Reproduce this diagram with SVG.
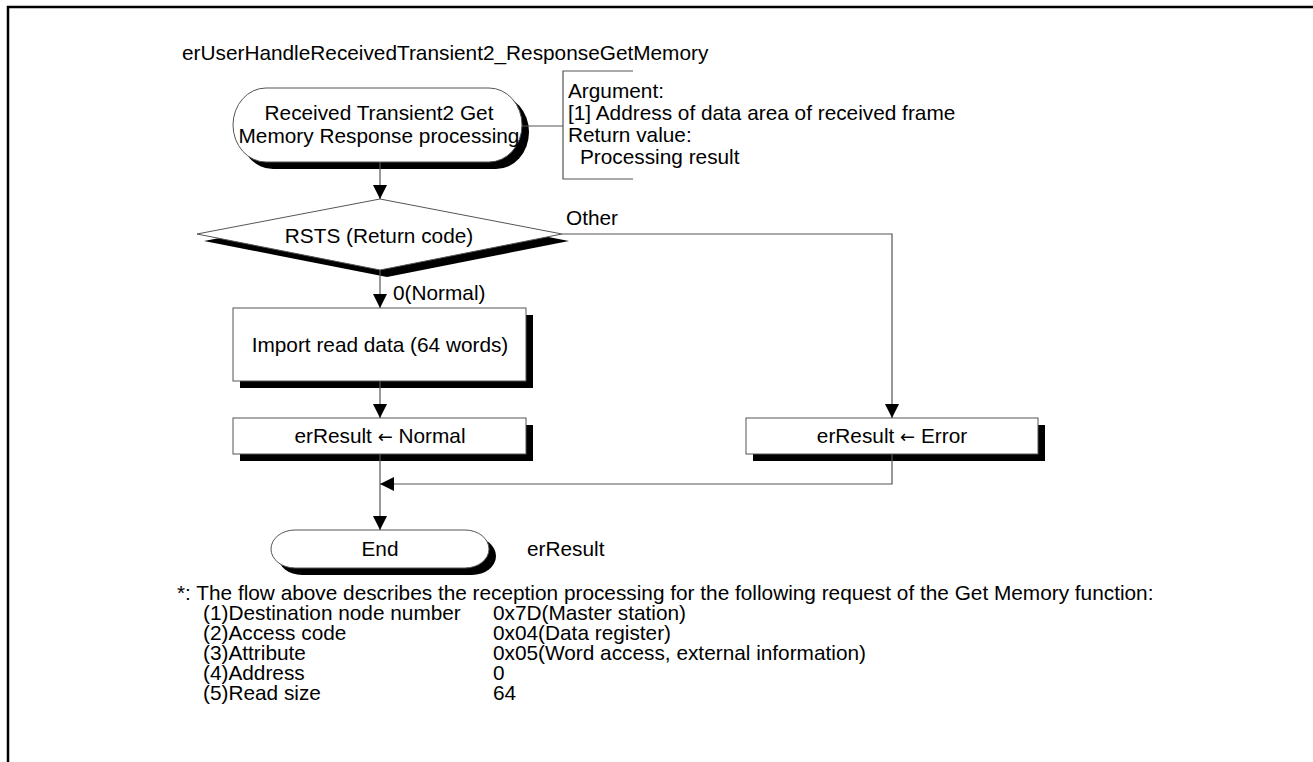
<svg xmlns="http://www.w3.org/2000/svg" width="1313" height="762" viewBox="0 0 1313 762">
  <style>
    text { font-family: "Liberation Sans", Arial, sans-serif; font-size: 20.8px; fill: #000; }
    .c { text-anchor: middle; }
    .sym { font-family: "DejaVu Sans", sans-serif; font-size: 18px; }
    .shape { fill: #fff; stroke: #555; stroke-width: 1; }
    .shadow { fill: #000; stroke: none; }
    .wire { fill: none; stroke: #555; stroke-width: 1.2; }
    .frame { fill: none; stroke: #000; stroke-width: 2.5; }
  </style>
  <defs>
    <marker id="arrow" viewBox="0 0 14 14" refX="14" refY="7" markerWidth="14" markerHeight="14" markerUnits="userSpaceOnUse" orient="auto">
      <path d="M0,0 L14,7 L0,14 Z" fill="#000"/>
    </marker>
  </defs>

  <rect width="1313" height="762" fill="#fff"/>

  <!-- page frame: top and left rules only -->
  <path class="frame" d="M8,762 V7 H1313"/>

  <text x="182" y="60">erUserHandleReceivedTransient2_ResponseGetMemory</text>

  <!-- start terminator -->
  <g id="start">
    <rect class="shadow" x="240" y="95" width="289" height="74" rx="33" ry="37"/>
    <rect class="shape" x="233" y="88" width="289" height="74" rx="33" ry="37"/>
    <text class="c" x="379" y="120">Received Transient2 Get</text>
    <text class="c" x="379" y="143">Memory Response processing</text>
  </g>

  <!-- argument annotation -->
  <g id="args">
    <path class="wire" d="M633,71 H563 V179 H633"/>
    <text x="568" y="98">Argument:</text>
    <text x="568" y="120">[1] Address of data area of received frame</text>
    <text x="568" y="142">Return value:</text>
    <text x="580" y="164">Processing result</text>
  </g>

  <!-- decision -->
  <g id="decision">
    <polygon class="shadow" points="204,241 387,206 569,241 387,277"/>
    <polygon class="shape" points="197,234 380,199 562,234 380,270"/>
    <text class="c" x="379" y="243">RSTS (Return code)</text>
  </g>

  <g id="import">
    <rect class="shadow" x="240" y="315" width="293" height="73"/>
    <rect class="shape" x="233" y="308" width="293" height="73"/>
    <text class="c" x="380" y="352">Import read data (64 words)</text>
  </g>

  <g id="normal">
    <rect class="shadow" x="240" y="425" width="293" height="36"/>
    <rect class="shape" x="233" y="418" width="293" height="36"/>
    <text class="c" x="380" y="443">erResult <tspan class="sym">←</tspan> Normal</text>
  </g>

  <g id="error">
    <rect class="shadow" x="753" y="425" width="292" height="36"/>
    <rect class="shape" x="746" y="418" width="292" height="36"/>
    <text class="c" x="892" y="443">erResult <tspan class="sym">←</tspan> Error</text>
  </g>

  <!-- end terminator -->
  <g id="end">
    <rect class="shadow" x="278" y="537" width="218" height="38" rx="24" ry="19"/>
    <rect class="shape" x="271" y="530" width="218" height="38" rx="24" ry="19"/>
    <text class="c" x="380" y="556">End</text>
    <text x="527" y="556">erResult</text>
  </g>

  <!-- connectors -->
  <g id="connectors">
    <path class="wire" d="M522,126 H563"/>
    <path class="wire" d="M380,162 V199" marker-end="url(#arrow)"/>
    <path class="wire" d="M380,270 V308" marker-end="url(#arrow)"/>
    <path class="wire" d="M380,381 V418" marker-end="url(#arrow)"/>
    <path class="wire" d="M562,234 H892 V418" marker-end="url(#arrow)"/>
    <path class="wire" d="M380,454 V530" marker-end="url(#arrow)"/>
    <path class="wire" d="M892,454 V484 H380" marker-end="url(#arrow)"/>
    <text x="566" y="225">Other</text>
    <text x="393" y="300">0(Normal)</text>
  </g>

  <!-- request parameters note -->
  <g id="note">
    <text x="177" y="600">*: The flow above describes the reception processing for the following request of the Get Memory function:</text>
    <text x="203" y="620">(1)Destination node number</text>
    <text x="493" y="620">0x7D(Master station)</text>
    <text x="203" y="640">(2)Access code</text>
    <text x="493" y="640">0x04(Data register)</text>
    <text x="203" y="660">(3)Attribute</text>
    <text x="493" y="660">0x05(Word access, external information)</text>
    <text x="203" y="680">(4)Address</text>
    <text x="493" y="680">0</text>
    <text x="203" y="700">(5)Read size</text>
    <text x="493" y="700">64</text>
  </g>
</svg>
